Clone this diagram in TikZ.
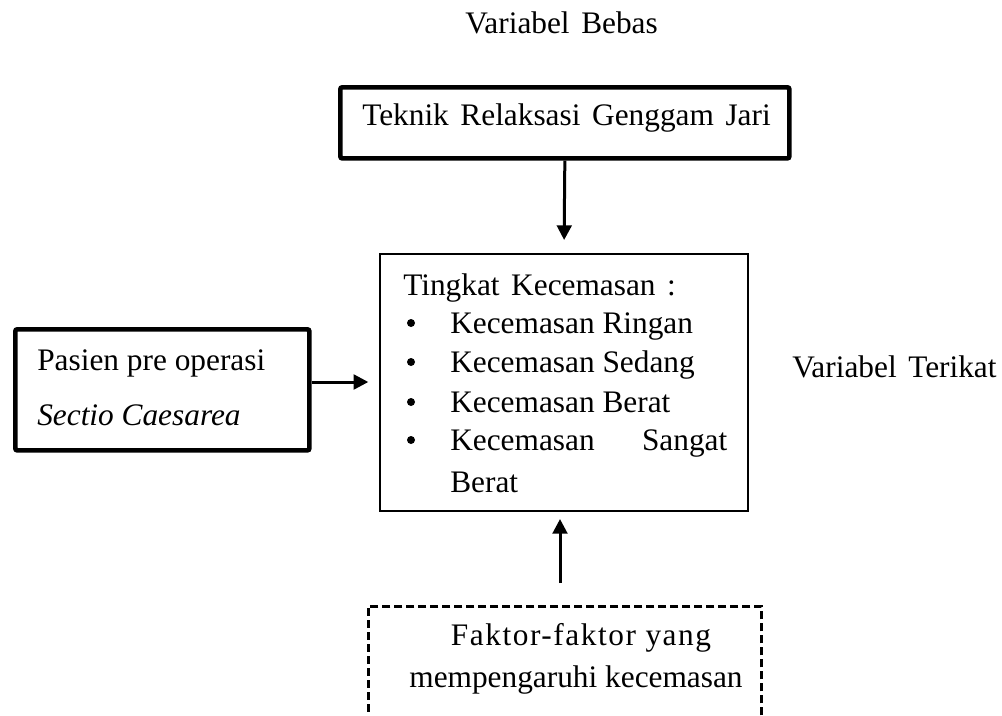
\documentclass[tikz,border=0pt]{standalone}
\usepackage{fontspec}
\setmainfont{Liberation Serif}
\newfontfamily\spacedfont[LetterSpace=5]{Liberation Serif}
\usetikzlibrary{arrows.meta}
\newcommand{\wsp}{\hspace{0.37em}}
\tikzset{
  x=0.75pt, y=-0.75pt,
  txt/.style={inner sep=0pt, font=\fontsize{23.5pt}{29.5pt}\selectfont},
  thickbox/.style={draw, line width=3.5pt, rounded corners=1.5pt, inner sep=0pt, anchor=north west},
  thinbox/.style={draw, line width=1.5pt, inner sep=0pt, anchor=north west},
  dashbox/.style={draw, line width=1.9pt, dash pattern=on 6pt off 3pt, inner sep=0pt, anchor=north west},
  dot/.style={circle, fill, inner sep=0pt, minimum size=6pt},
  arr/.style={line width=2.25pt, -{Triangle[width=11pt,length=11pt]}}
}
\begin{document}
\begin{tikzpicture}
\useasboundingbox (0,0) rectangle (1002,715);
\clip (0,0) rectangle (1002,715);
% boxes
\node[thickbox, minimum width=336.75pt, minimum height=53.25pt] (tbox) at (338,85) {};
\node[thinbox, minimum width=276pt, minimum height=192.75pt] (cbox) at (379,253) {};
\node[thickbox, minimum width=220.5pt, minimum height=90.75pt] (lbox) at (13,327) {};
\node[dashbox, minimum width=294.75pt, minimum height=120pt] (dbox) at (367,605) {};
% texts
\node[txt, anchor=base west] (vbebas) at (465,33) {Variabel\wsp Bebas};
\node[txt, anchor=base west] (vterikat) at (792,377) {Variabel\wsp Terikat};
\node[txt, anchor=base west] (ttext) at (362,125) {Teknik\wsp Relaksasi\wsp Genggam\wsp Jari};
\node[txt, anchor=base west] (l1) at (37,370) {Pasien pre operasi};
\node[txt, anchor=base west] (l2) at (37,425) {\itshape Sectio Caesarea};
\node[txt, anchor=base west] (c0) at (403,295) {Tingkat\wsp Kecemasan\wsp :};
\node[dot] (b1) at (411,323) {};
\node[dot] (b2) at (411,362) {};
\node[dot] (b3) at (411,402) {};
\node[dot] (b4) at (411,440) {};
\node[txt, anchor=base west] (c1) at (450,333) {Kecemasan Ringan};
\node[txt, anchor=base west] (c2) at (450,372) {Kecemasan Sedang};
\node[txt, anchor=base west] (c3) at (450,412) {Kecemasan Berat};
\node[txt, anchor=base west] (c4) at (450,450) {\makebox[207.75pt][l]{Kecemasan\hfill Sangat}};
\node[txt, anchor=base west] (c5) at (450,492) {Berat};
\node[txt, anchor=base] (d1) at (581,645) {\spacedfont Faktor-faktor yang};
\node[txt, anchor=base] (d2) at (576,687) {mempengaruhi kecemasan};
% connectors
\coordinate (ly) at (0,382);
\coordinate (bx) at (560,0);
\draw[arr, shorten >=9.75pt] (tbox.south) -- (cbox.north);
\draw[arr, shorten >=8pt] (lbox.east |- ly) -- (cbox.west |- ly);
\draw[arr, shorten <=16.5pt, shorten >=5.25pt] (dbox.north -| bx) -- (cbox.south -| bx);
\end{tikzpicture}
\end{document}
